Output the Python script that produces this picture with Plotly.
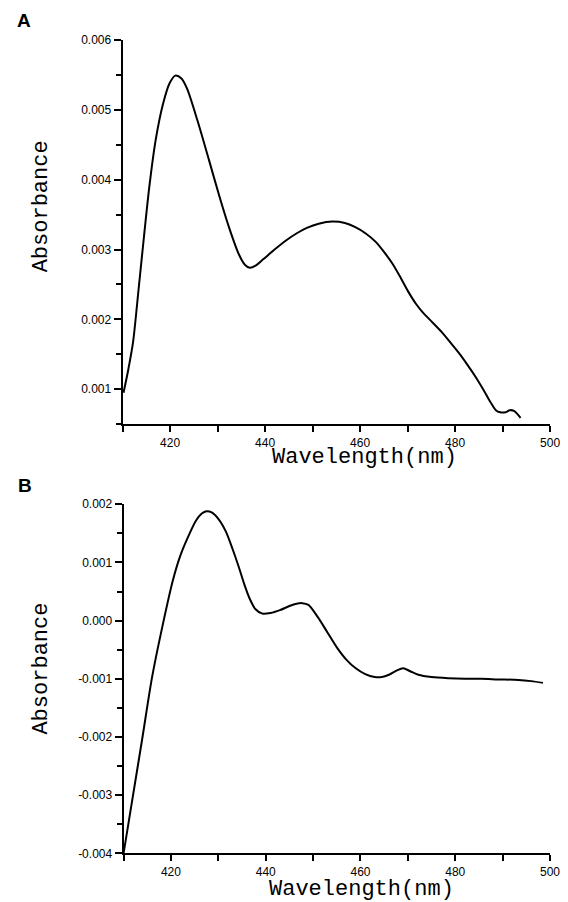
import plotly.graph_objects as go

# Panel A data
wl_a = [410.2, 411.2, 412.2, 413.4, 414.5, 415.6, 417.0, 418.5, 419.9, 421.1, 422.4, 423.6,
        425.8, 428.2, 430.4, 432.5, 434.5, 435.8, 436.8, 438.0, 439.6, 442.0, 444.4, 446.6,
        448.8, 451.3, 454.2, 456.8, 459.0, 461.2, 463.3, 465.0, 466.8, 468.6, 470.3, 471.8,
        473.2, 475.2, 477.3, 479.0, 480.8, 482.5, 484.3, 486.0, 487.5, 488.6, 489.5, 490.6,
        491.5, 492.4, 493.8]
abs_a = [0.00095, 0.00128, 0.00167, 0.00245, 0.00318, 0.00388, 0.00458, 0.00508, 0.00538,
         0.00549, 0.00545, 0.00530, 0.00484, 0.00428, 0.00376, 0.00330, 0.00293, 0.00278,
         0.00274, 0.00277, 0.00286, 0.00300, 0.00313, 0.00323, 0.00331, 0.00337, 0.00340,
         0.00338, 0.00332, 0.00323, 0.00311, 0.00297, 0.00280, 0.00259, 0.00238, 0.00222,
         0.00210, 0.00196, 0.00181, 0.00167, 0.00152, 0.00136, 0.00118, 0.00099, 0.00081,
         0.00070, 0.00067, 0.00067, 0.00070, 0.00069, 0.00059]

# Panel B data
wl_b = [410.0, 412.0, 414.0, 416.0, 418.3, 420.4, 422.0, 423.4, 425.3, 426.5, 427.5, 428.6,
        430.0, 431.6, 433.0, 434.4, 435.5, 436.6, 437.8, 439.3, 441.0, 443.0, 445.0, 446.5,
        447.7, 449.0, 451.0, 453.0, 455.0, 457.0, 459.0, 461.0, 463.0, 464.5, 466.0, 467.6,
        469.0, 470.5, 472.2, 475.0, 478.5, 482.0, 485.5, 489.0, 493.3, 496.0, 498.5]
abs_b = [-0.00400, -0.00300, -0.00200, -0.00098, -0.00006, 0.00069, 0.00112, 0.00140,
         0.00172, 0.00184, 0.00188, 0.00186, 0.00175, 0.00153, 0.00123, 0.00090, 0.00062,
         0.00038, 0.00020, 0.00012, 0.00013, 0.00018, 0.00025, 0.00029, 0.00030, 0.00027,
         0.00006, -0.00020, -0.00046, -0.00067, -0.00082, -0.00092, -0.00097, -0.00097,
         -0.00093, -0.00086, -0.00082, -0.00087, -0.00093, -0.00097, -0.00099, -0.00100,
         -0.00100, -0.00101, -0.00102, -0.00104, -0.00107]

x_ticks = [420, 440, 460, 480, 500]
ya_ticks = [0.001, 0.002, 0.003, 0.004, 0.005, 0.006]
ya_labels = ["0.001", "0.002", "0.003", "0.004", "0.005", "0.006"]
yb_ticks = [-0.004, -0.003, -0.002, -0.001, 0.000, 0.001, 0.002]
yb_labels = ["-0.004", "-0.003", "-0.002", "-0.001", "0.000", "0.001", "0.002"]

# figure size and compensation for how the page is placed in the picture
W, H = 568, 900
SX, OX = 0.979, 8.0
SY, CY = 0.984, 15.0


def px(x):
    return (x / SX - OX) / W


def py(y):
    return 1 - ((y - CY) / SY) / H


tick_font = dict(family="Arial, Liberation Sans, sans-serif", size=12, color="black")
title_font = dict(family="Courier New, Liberation Mono, monospace", size=22, color="black")

fig = go.Figure()
fig.add_trace(go.Scatter(x=wl_a, y=abs_a, mode="lines",
                         line=dict(color="black", width=2, shape="spline", smoothing=0.8),
                         xaxis="x", yaxis="y", showlegend=False))
fig.add_trace(go.Scatter(x=wl_b, y=abs_b, mode="lines",
                         line=dict(color="black", width=2, shape="spline", smoothing=0.8),
                         xaxis="x2", yaxis="y2", showlegend=False))


def xax(domain, anchor):
    return dict(domain=domain, anchor=anchor, range=[410, 500], tickvals=x_ticks,
                ticks="outside", ticklen=6, tickwidth=1.5, tickcolor="black",
                showline=True, linecolor="black", linewidth=2, showgrid=False, zeroline=False,
                tickfont=tick_font, ticklabeloverflow="allow",
                minor=dict(tick0=410, dtick=10, ticks="outside", ticklen=6, tickwidth=1.5,
                           tickcolor="black"))


def yax(domain, anchor, rng, tv, tt, mdt):
    return dict(domain=domain, anchor=anchor, range=rng, tickvals=tv, ticktext=tt,
                ticks="outside", ticklen=7, tickwidth=1.5, tickcolor="black",
                showline=True, linecolor="black", linewidth=2, showgrid=False, zeroline=False,
                tickfont=tick_font,
                minor=dict(tick0=0, dtick=mdt, ticks="outside", ticklen=5, tickwidth=1.5,
                           tickcolor="black"))


fig.update_layout(
    width=W, height=H,
    margin=dict(l=0, r=0, t=0, b=0),
    paper_bgcolor="white", plot_bgcolor="white",
    xaxis=xax([px(122), px(548)], "y"),
    yaxis=yax([py(424), py(40)], "x", [0.0005, 0.006], ya_ticks, ya_labels, 0.0005),
    xaxis2=xax([px(123), px(548)], "y2"),
    yaxis2=yax([py(853), py(504)], "x2", [-0.004, 0.002], yb_ticks, yb_labels, 0.0005),
    annotations=[
        dict(text="<b>A</b>", x=px(15), y=py(20), xref="paper", yref="paper",
             xanchor="left", yanchor="middle", showarrow=False,
             font=dict(family="Arial, Liberation Sans, sans-serif", size=19, color="black")),
        dict(text="<b>B</b>", x=px(16), y=py(485), xref="paper", yref="paper",
             xanchor="left", yanchor="middle", showarrow=False,
             font=dict(family="Arial, Liberation Sans, sans-serif", size=19, color="black")),
        dict(text="Absorbance", x=px(41), y=py(206), xref="paper", yref="paper", textangle=-90,
             xanchor="center", yanchor="middle", showarrow=False, font=title_font),
        dict(text="Absorbance", x=px(41), y=py(668), xref="paper", yref="paper", textangle=-90,
             xanchor="center", yanchor="middle", showarrow=False, font=title_font),
        dict(text="Wavelength(nm)", x=px(363), y=py(457), xref="paper", yref="paper",
             xanchor="center", yanchor="middle", showarrow=False, font=title_font),
        dict(text="Wavelength(nm)", x=px(360), y=py(889), xref="paper", yref="paper",
             xanchor="center", yanchor="middle", showarrow=False, font=title_font),
    ],
)

fig.write_html("out.html")
